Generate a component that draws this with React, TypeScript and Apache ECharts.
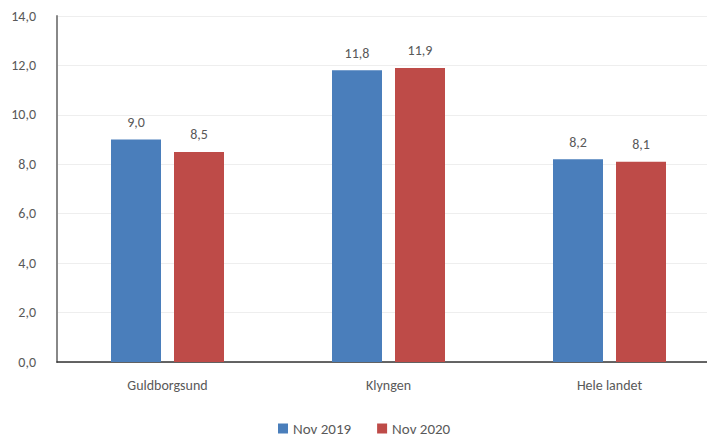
import React, { useEffect, useRef } from "react";
import * as echarts from "echarts";

const categories = ["Guldborgsund", "Klyngen", "Hele landet"];
const nov2019 = [9.0, 11.8, 8.2];
const nov2020 = [8.5, 11.9, 8.1];
const seriesNames = ["Nov 2019", "Nov 2020"];

const fmt = (v: number) => v.toFixed(1).replace(".", ",");

export default function App() {
  const ref = useRef<HTMLDivElement>(null);
  useEffect(() => {
    const chart = echarts.init(ref.current!, null, { renderer: "svg" });
    const font = "Calibri, 'Liberation Sans', 'DejaVu Sans', sans-serif";
    const labelStyle = {
      show: true,
      position: "top" as const,
      distance: 10,
      color: "#595959",
      fontSize: 14,
      fontFamily: font,
      formatter: (p: any) => fmt(p.value),
    };
    chart.setOption({
      animation: false,
      grid: { left: 57, top: 16, width: 663, height: 346 },
      legend: {
        bottom: 2,
        left: 273,
        itemWidth: 10,
        itemHeight: 10,
        itemGap: 26,
        icon: "rect",
        textStyle: { color: "#595959", fontSize: 15, fontFamily: font },
        data: seriesNames,
      },
      xAxis: {
        type: "category",
        data: categories,
        axisLine: { lineStyle: { color: "#333", width: 1.5 } },
        axisTick: { show: false },
        axisLabel: { color: "#595959", fontSize: 14, fontFamily: font, margin: 16 },
      },
      yAxis: {
        type: "value",
        min: 0,
        max: 14,
        interval: 2,
        axisLine: { show: true, lineStyle: { color: "#888", width: 2 } },
        axisTick: { show: false },
        splitLine: { lineStyle: { color: "#eeeeee" } },
        axisLabel: {
          color: "#595959",
          fontSize: 14,
          fontFamily: font,
          margin: 21,
          formatter: (v: number) => fmt(v),
        },
      },
      series: [
        {
          name: seriesNames[0],
          type: "bar",
          data: nov2019,
          barWidth: 50,
          barGap: "26%",
          itemStyle: { color: "#4a7ebb" },
          label: labelStyle,
        },
        {
          name: seriesNames[1],
          type: "bar",
          data: nov2020,
          barWidth: 50,
          itemStyle: { color: "#be4b48" },
          label: labelStyle,
        },
      ],
    });
    return () => chart.dispose();
  }, []);
  return (
    <div style={{ width: 715, height: 443, margin: -8, overflow: "hidden" }}>
      <div ref={ref} style={{ width: 730, height: 443 }} />
    </div>
  );
}
